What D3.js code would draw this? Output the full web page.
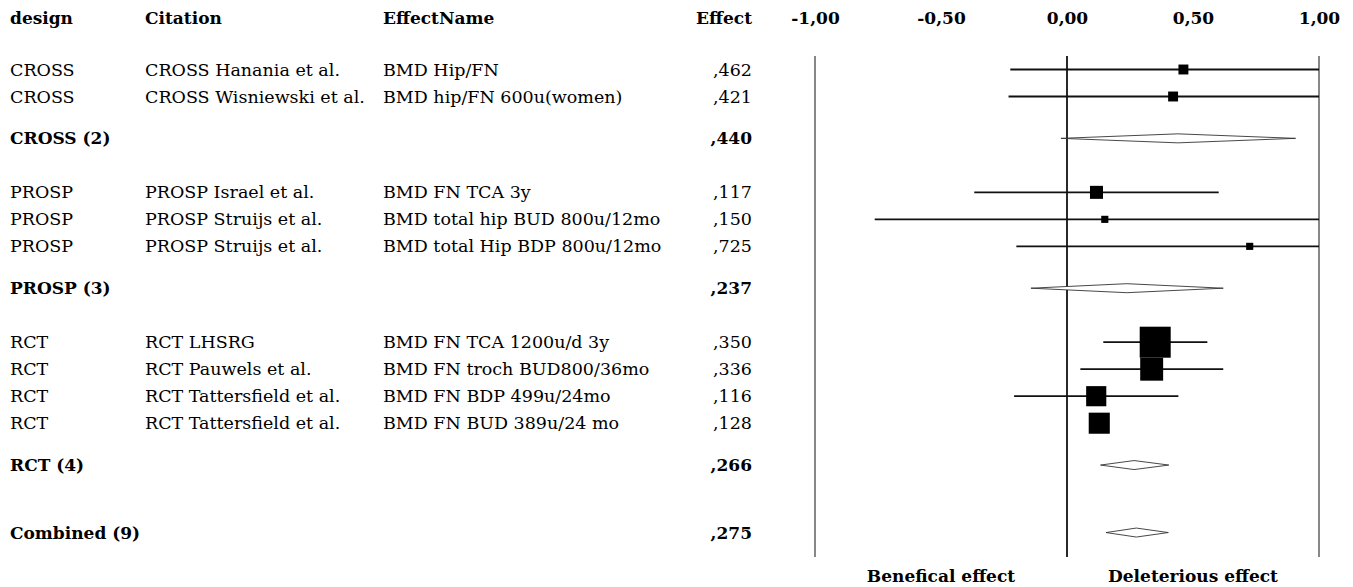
<!DOCTYPE html>
<html>
<head>
<meta charset="utf-8">
<script src="https://cdn.jsdelivr.net/npm/d3@7"></script>
<style>
  html, body { margin: 0; padding: 0; background: #fff; }
  svg { display: block; }
  text { font-family: "DejaVu Serif", "Liberation Serif", serif; font-size: 17.5px; fill: #000; }
  .bold { font-weight: bold; font-size: 17px; }
</style>
</head>
<body>
<svg id="chart" width="1353" height="587"></svg>
<script>
// ---------- data ----------
const headers = ["design", "Citation", "EffectName", "Effect"];
const rowDesign = ["CROSS", "CROSS", "CROSS (2)",
  "PROSP", "PROSP", "PROSP", "PROSP (3)",
  "RCT", "RCT", "RCT", "RCT", "RCT (4)", "Combined (9)"];
const rowCitation = ["CROSS Hanania et al.", "CROSS Wisniewski et al.", "",
  "PROSP Israel et al.", "PROSP Struijs et al.", "PROSP Struijs et al.", "",
  "RCT LHSRG", "RCT Pauwels et al.", "RCT Tattersfield et al.", "RCT Tattersfield et al.", "", ""];
const rowEffectName = ["BMD Hip/FN", "BMD hip/FN 600u(women)", "",
  "BMD FN TCA 3y", "BMD total hip BUD 800u/12mo", "BMD total Hip BDP 800u/12mo", "",
  "BMD FN TCA 1200u/d 3y", "BMD FN troch BUD800/36mo", "BMD FN BDP 499u/24mo", "BMD FN BUD 389u/24 mo", "", ""];
const rowType = ["study", "study", "subtotal",
  "study", "study", "study", "subtotal",
  "study", "study", "study", "study", "subtotal", "total"];
const effects = [0.462, 0.421, 0.440, 0.117, 0.150, 0.725, 0.237, 0.350, 0.336, 0.116, 0.128, 0.266, 0.275];
const lowerCI = [-0.225, -0.232, -0.024, -0.368, -0.763, -0.201, -0.143, 0.144, 0.053, -0.210, 0.095, 0.133, 0.155];
const upperCI = [1.15, 1.08, 0.907, 0.602, 1.10, 1.65, 0.620, 0.557, 0.620, 0.442, 0.160, 0.404, 0.402];
const weightsStudy = [3.2, 3.2, null, 4.2, 2.3, 2.3, null, 10, 7.4, 6.5, 6.8, null, null];
const axisTicks = [-1, -0.5, 0, 0.5, 1];
const refLines = [-1, 0, 1];
const bottomLabels = ["Benefical effect", "Deleterious effect"];
const bottomLabelPos = [-0.5, 0.5];

// ---------- layout ----------
const svg = d3.select("#chart");
const colX = { design: 10, citation: 145, name: 383, effectRight: 752 };
const headerY = 18;

const x = d3.scaleLinear().domain([-1, 1]).range([815, 1319]).clamp(true);

// vertical position index: steps depend on row-type transitions
const idx = [];
rowType.forEach((t, i) => {
  if (i === 0) { idx.push(0); return; }
  const p = rowType[i - 1];
  let step = 1;
  if (t === "subtotal" && p === "study") step = 1.55;
  else if (t === "study" && p === "subtotal") step = 2;
  else if (t === "total") step = 2.5;
  idx.push(idx[i - 1] + step);
});
const y = d3.scaleLinear().domain([0, 1]).range([69.5, 96.5]);

const locale = d3.formatLocale({ decimal: ",", thousands: ".", grouping: [3], currency: ["", ""], minus: "-" });
const fmt2 = locale.format(".2f");
const fmt3 = v => locale.format(".3f")(v).replace(/^0/, "").replace(/^-0/, "-");

// ---------- header ----------
const hx = [colX.design, colX.citation, colX.name];
headers.slice(0, 3).forEach((h, i) => {
  svg.append("text").attr("class", "bold").attr("x", hx[i]).attr("y", headerY)
    .attr("dy", "0.35em").text(h);
});
svg.append("text").attr("class", "bold").attr("x", colX.effectRight).attr("y", headerY)
  .attr("dy", "0.35em").attr("text-anchor", "end").text(headers[3]);

// axis tick labels (top)
const axis = d3.axisTop(x).tickValues(axisTicks).tickFormat(fmt2).tickSize(0).tickPadding(0);
const axG = svg.append("g").attr("transform", `translate(0,${headerY})`).call(axis);
axG.select(".domain").remove();
axG.selectAll("text").attr("class", "bold").attr("dy", "0.35em")
  .style("font-family", '"DejaVu Serif", "Liberation Serif", serif').style("font-size", "17px")
  .attr("fill", "#000");

// ---------- table rows ----------
const rows = svg.append("g").selectAll("g").data(rowType.map((t, i) => i)).join("g")
  .attr("transform", i => `translate(0,${y(idx[i])})`);
rows.append("text").attr("x", colX.design).attr("dy", "0.35em")
  .attr("class", i => rowType[i] === "study" ? null : "bold").text(i => rowDesign[i]);
rows.append("text").attr("x", colX.citation).attr("dy", "0.35em").text(i => rowCitation[i]);
rows.append("text").attr("x", colX.name).attr("dy", "0.35em").text(i => rowEffectName[i]);
rows.append("text").attr("x", colX.effectRight).attr("dy", "0.35em").attr("text-anchor", "end")
  .attr("class", i => rowType[i] === "study" ? null : "bold").text(i => fmt3(effects[i]));

// ---------- forest plot ----------
const lineTop = 56, lineBottom = 557;
svg.append("g").selectAll("line").data(refLines).join("line")
  .attr("x1", d => x(d)).attr("x2", d => x(d))
  .attr("y1", lineTop).attr("y2", lineBottom)
  .attr("stroke", d => d === 0 ? "#111" : "#555")
  .attr("stroke-width", d => d === 0 ? 1.8 : 1.4);

const size = d3.scaleLinear().domain([0, 10]).range([0, 31]);
const studyIdx = rowType.map((t, i) => i).filter(i => rowType[i] === "study");
const sumIdx = rowType.map((t, i) => i).filter(i => rowType[i] !== "study");

const fg = svg.append("g");
fg.selectAll("line.ci").data(studyIdx).join("line").attr("class", "ci")
  .attr("x1", i => x(lowerCI[i])).attr("x2", i => x(upperCI[i]))
  .attr("y1", i => y(idx[i])).attr("y2", i => y(idx[i]))
  .attr("stroke", "#111").attr("stroke-width", 1.8);
fg.selectAll("rect").data(studyIdx).join("rect")
  .attr("x", i => x(effects[i]) - size(weightsStudy[i]) / 2)
  .attr("y", i => y(idx[i]) - size(weightsStudy[i]) / 2)
  .attr("width", i => size(weightsStudy[i]))
  .attr("height", i => size(weightsStudy[i]))
  .attr("fill", "#000");

const dh = 4.5;
fg.selectAll("polygon").data(sumIdx).join("polygon")
  .attr("points", i => {
    const yy = y(idx[i]);
    return [[x(lowerCI[i]), yy], [x(effects[i]), yy - dh], [x(upperCI[i]), yy], [x(effects[i]), yy + dh]]
      .map(p => p.join(",")).join(" ");
  })
  .attr("fill", "#fff").attr("stroke", "#333").attr("stroke-width", 0.9);

// bottom labels
svg.append("g").selectAll("text").data(bottomLabels).join("text")
  .attr("class", "bold").attr("x", (d, i) => x(bottomLabelPos[i])).attr("y", 576)
  .attr("dy", "0.35em").attr("text-anchor", "middle").text(d => d);
</script>
</body>
</html>
